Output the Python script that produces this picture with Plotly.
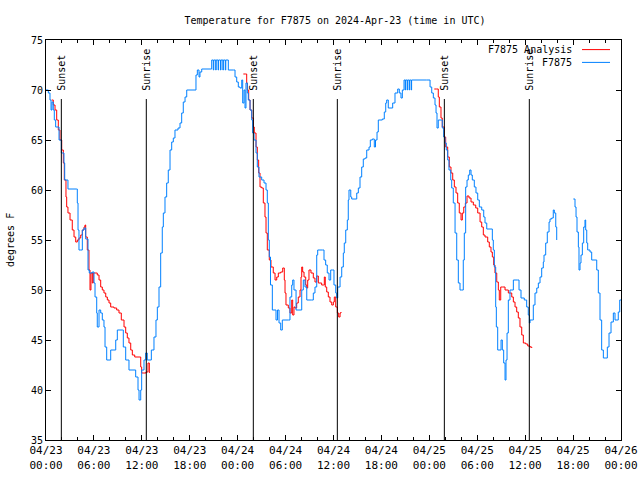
import plotly.graph_objects as go

# ---- data (hours since 2024-04-23 00:00 UTC, temperature in deg F) ----
obs_hours = [0.00, 0.29, 0.50, 0.63, 0.75, 0.91, 1.04, 1.21, 1.63, 1.92, 2.25, 2.34, 2.75, 3.84, 3.92, 4.01,
             4.13, 4.35, 4.55, 4.76, 4.97, 5.13, 5.26, 5.42, 5.80, 6.01, 6.14, 6.35, 6.42, 6.64, 6.85, 7.05,
             7.26, 7.39, 7.60, 7.89, 8.10, 8.51, 8.73, 8.93, 9.55, 9.68, 9.98, 10.39, 11.02, 11.23, 11.52, 11.65,
             11.86, 11.98, 12.27, 12.48, 12.68, 13.02, 13.19, 13.52, 13.77, 13.94, 14.15, 14.36, 14.56, 14.69,
             14.90, 15.11, 15.31, 15.53, 15.74, 15.94, 16.15, 16.53, 16.78, 16.99, 17.19, 17.41, 17.62, 18.66,
             18.78, 18.95, 19.16, 19.28, 19.50, 20.54, 20.75, 20.95, 21.01, 21.25, 21.31, 21.55, 21.61, 21.85,
             21.91, 22.15, 22.21, 22.45, 22.51, 22.83, 23.45, 23.67, 23.88, 24.08, 24.29, 24.51, 24.63,
             24.79, 24.92, 25.04, 25.21, 25.33, 25.55, 25.76, 25.88, 26.05, 26.30, 26.46, 26.67, 27.01, 27.30,
             27.55, 27.71, 27.84, 27.96, 28.11, 28.34, 28.68, 28.80, 28.99, 29.18, 29.39, 29.59, 30.34, 30.55,
             30.77, 30.89, 31.05, 31.31, 31.81, 32.02, 32.22, 32.43, 32.65, 33.27, 33.47, 33.68, 33.90, 34.02,
             34.65, 34.81, 35.02, 35.22, 35.44, 35.65, 35.90, 36.06, 36.28, 36.40, 36.53, 36.69, 36.82, 37.03,
             37.23, 37.35, 37.53, 37.73, 37.85, 37.94, 38.16, 38.28, 38.69, 38.91, 39.11, 39.32, 39.53, 39.73,
             39.95, 40.16, 40.45, 40.61, 40.86, 41.11, 41.26, 41.45, 41.61, 42.11, 42.36, 42.54, 42.66, 42.86,
             43.20, 43.41, 43.70, 44.04, 44.24, 44.45, 44.62, 44.83, 44.98, 45.03, 45.23, 45.28, 45.48, 45.53,
             45.73, 45.78, 47.67, 48.09, 48.30, 48.50, 48.71, 48.84, 48.96, 49.12, 49.46, 49.62, 49.80, 49.96,
             50.12, 50.30, 50.46, 50.68, 50.80, 51.00, 51.22, 51.43, 51.63, 51.84, 52.05, 52.25, 52.38, 52.55,
             52.72, 52.88, 53.06, 53.22, 53.38, 53.63, 53.84, 54.06, 54.26, 54.56, 54.81, 54.97, 55.19, 55.72,
             55.89, 56.01, 56.14, 56.31, 56.39, 56.56, 56.85, 56.98, 57.14, 57.31, 57.48, 57.60, 57.73, 57.89,
             58.10, 58.52, 59.07, 59.23, 59.48, 59.89, 60.19, 60.39, 60.52, 60.61, 60.90, 61.02, 61.23, 61.45,
             61.65, 61.86, 62.07, 62.27, 62.36, 62.57, 62.77, 62.99, 63.11, 63.32, 63.52, 63.65, 63.83, 63.95,
             65.00,
             66.03, 66.24, 66.37, 66.49, 66.66, 66.74, 66.87, 66.99, 67.16, 67.33, 67.49, 67.58, 67.71, 67.83,
             68.12, 68.33, 68.75, 68.96, 69.16, 69.37, 69.58, 69.79, 70.09, 70.29, 70.50, 70.75, 71.04, 71.25,
             71.50, 71.66, 71.84, 72.00]
obs_temps = [70.0, 69.7, 69.0, 68.0, 68.8, 68.0, 67.0, 66.3, 65.0, 63.7, 62.7, 61.0, 60.1, 60.1, 58.7, 56.0,
             54.0, 54.0, 56.0, 56.2, 55.1, 55.1, 52.0, 51.7, 51.8, 50.7, 49.3, 47.7, 46.3, 48.0, 47.7, 47.0,
             46.3, 44.3, 43.0, 43.0, 44.0, 44.0, 45.0, 46.0, 46.0, 44.3, 43.0, 42.0, 42.0, 41.3, 40.0, 39.0,
             40.0, 42.0, 43.0, 43.7, 43.0, 43.0, 44.0, 45.3, 47.0, 48.3, 50.3, 53.7, 56.3, 57.7,
             59.3, 60.7, 62.0, 64.0, 64.8, 65.2, 66.0, 66.2, 66.7, 67.7, 68.8, 69.3, 70.0, 70.0,
             71.5, 72.0, 71.3, 71.8, 72.1, 72.1, 73.0, 72.0, 73.0, 72.0, 73.0, 72.0, 73.0, 72.0,
             73.0, 72.0, 73.0, 72.0, 73.0, 72.0, 72.0, 71.3, 70.8, 70.3, 70.2, 71.0, 68.7,
             70.0, 68.2, 70.7, 69.7, 69.0, 68.0, 67.0, 65.7, 65.0, 63.7, 62.3, 61.3, 61.0, 60.7,
             60.0, 58.7, 55.0, 53.3, 50.5, 48.0, 48.0, 47.0, 48.0, 46.7, 46.0, 47.0, 47.0, 49.3,
             50.5, 51.0, 50.0, 48.0, 48.0, 50.0, 51.0, 50.3, 49.0, 49.0, 49.7, 50.3, 53.5, 54.0,
             54.0, 53.0, 52.5, 51.7, 51.0, 52.0, 52.0, 50.5, 49.7, 49.2, 50.3, 50.3, 51.3, 52.3,
             53.7, 54.7, 56.0, 57.0, 59.0, 60.0, 59.3, 59.1, 59.1, 59.7, 60.2, 61.3, 62.3, 63.1,
             63.2, 64.0, 64.3, 65.0, 65.1, 64.3, 65.0, 65.8, 67.0, 67.1, 67.8, 68.7, 69.0, 68.2,
             68.2, 68.7, 69.7, 70.1, 69.7, 69.2, 70.0, 71.0, 70.0, 71.0, 70.0, 71.0, 70.0, 71.0,
             70.0, 71.0, 71.0, 70.3, 69.7, 69.2, 68.5, 67.7, 66.2, 67.0, 67.0, 66.2, 65.3, 64.7,
             64.0, 63.0, 62.0, 61.0, 60.2, 58.7, 55.7, 53.0, 50.7, 50.0, 50.0, 53.0, 55.7, 60.3,
             61.0, 61.5, 62.0, 61.5, 61.0, 60.3, 59.7, 59.0, 58.3, 58.0, 57.3, 56.7, 56.1, 56.1,
             55.0, 54.0, 52.3, 48.3, 46.3, 44.0, 44.0, 45.0, 44.0, 42.7, 41.0, 43.0, 45.7, 49.0,
             50.0, 51.0, 51.0, 50.0, 49.2, 49.0, 48.3, 47.5, 46.7, 47.0, 47.0, 48.5, 49.7, 50.2,
             50.7, 51.3, 52.2, 52.8, 53.5, 54.7, 55.8, 56.8, 57.1, 57.2, 58.0, 57.7, 56.3, 55.0,
             None,
             59.1, 58.3, 57.3, 55.8, 54.3, 52.0, 52.7, 53.5, 54.7, 56.3, 57.0, 56.0, 54.7, 54.0,
             53.8, 53.0, 53.0, 52.0, 49.7, 47.0, 44.0, 43.2, 43.2, 44.3, 45.7, 46.8, 47.7, 47.0,
             47.0, 47.8, 49.0, 49.0]

ana_hours = [0.71, 0.91, 1.13, 1.34, 1.54, 1.75, 1.97, 2.17, 2.29, 2.50, 2.59, 2.75, 3.01, 3.29, 3.51, 3.72,
             3.92, 4.13, 4.35, 4.55, 4.76, 4.88, 4.97, 5.17, 5.38, 5.51, 5.63, 5.80, 5.92, 6.42, 6.64, 6.85,
             7.05, 7.26, 7.48, 7.68, 7.89, 8.10, 8.51, 8.85, 9.14, 9.43, 9.77, 9.98, 10.18, 10.39, 10.61, 10.81,
             11.11, 11.65, 11.86, 11.98, 12.27, 12.52, 12.77, 12.94,
             18.0,
             24.71, 25.01, 25.13, 25.21, 25.38, 25.55, 25.76, 25.96, 26.08, 26.30, 26.46, 26.63, 26.80, 27.01,
             27.21, 27.42, 27.55, 27.71, 27.96, 28.17, 28.46, 28.68, 28.89, 29.09, 29.39, 29.64, 29.84, 29.93,
             30.05, 30.34, 30.55, 30.77, 30.89, 31.05, 31.18, 31.39, 31.59, 31.81, 31.93, 32.02, 32.14, 32.31,
             32.52, 32.65, 32.77, 32.93, 33.18, 33.47, 33.68, 33.90, 34.10, 34.52, 34.72, 34.85, 34.97, 35.15,
             35.35, 35.56, 35.78, 35.98, 36.10, 36.28, 36.48, 36.65, 36.82, 36.94,
             42.0,
             48.62, 48.92, 49.12, 49.25, 49.46, 49.62, 49.87, 50.05, 50.30, 50.50, 50.71, 50.93, 51.13, 51.34,
             51.55, 51.75, 51.97, 52.13, 52.31, 52.51, 52.72, 52.97, 53.22, 53.51, 53.81, 54.06, 54.35, 54.56,
             54.76, 54.97, 55.31, 55.51, 55.72, 55.89, 56.06, 56.22, 56.44, 56.64, 56.76, 56.94, 57.14, 57.48,
             57.89, 58.32, 58.52, 58.73, 58.94, 59.14, 59.35, 59.57, 59.77, 60.07, 60.32, 60.61, 60.82]
ana_temps = [69.0, 68.5, 68.0, 67.0, 66.0, 65.0, 64.0, 62.7, 61.0, 59.3, 58.3, 57.7, 57.0, 56.0, 55.3, 54.8,
             55.0, 55.2, 55.5, 56.0, 56.3, 56.5, 55.3, 54.0, 52.0, 50.0, 51.7, 50.7, 51.7, 51.5, 51.0, 50.3,
             50.0, 49.7, 49.3, 49.0, 48.7, 48.3, 48.2, 48.0, 47.7, 47.0, 46.3, 45.7, 45.2, 44.7, 44.0, 43.5,
             43.3, 43.3, 42.3, 41.7, 41.7, 41.8, 42.7, 41.7,
             None,
             71.6, 71.6, 70.7, 70.0, 69.0, 68.0, 67.2, 66.3, 65.7, 64.3, 63.0, 61.7, 60.3, 60.2,
             58.7, 57.3, 55.7, 54.0, 53.0, 52.3, 51.7, 51.0, 51.3, 51.7, 51.8, 52.2, 51.0, 49.7,
             48.5, 48.2, 47.7, 49.0, 47.5, 48.3, 48.2, 48.7, 49.3, 50.0, 51.3, 52.3, 51.8, 51.3,
             50.5, 50.2, 51.0, 52.0, 51.7, 51.2, 50.8, 51.4, 50.7, 50.5, 50.5, 51.3, 50.3, 49.8,
             49.3, 48.8, 48.5, 48.8, 49.3, 48.3, 47.7, 47.3, 47.7, 47.8,
             None,
             70.1, 70.1, 69.3, 68.3, 67.2, 66.3, 65.3, 64.3, 63.3, 62.3, 61.7, 61.0, 60.3, 59.7,
             58.7, 57.7, 57.0, 57.7, 58.3, 58.7, 59.4, 59.2, 58.8, 58.5, 58.2, 57.7, 56.8, 56.3,
             55.5, 55.3, 54.8, 54.3, 53.8, 53.3, 52.5, 51.7, 50.8, 50.0, 49.0, 50.3, 50.3, 50.0,
             49.7, 49.3, 48.8, 48.3, 47.8, 47.2, 46.3, 45.5, 44.7, 44.6, 44.4, 44.3, 44.2]

event_hours = [1.92, 12.56, 25.96, 36.48, 49.88, 60.52]
event_labels = ["Sunset", "Sunrise", "Sunset", "Sunrise", "Sunset", "Sunrise"]

tick_hours = [0, 6, 12, 18, 24, 30, 36, 42, 48, 54, 60, 66, 72]
tick_labels = ["04/23<br>00:00", "04/23<br>06:00", "04/23<br>12:00", "04/23<br>18:00",
               "04/24<br>00:00", "04/24<br>06:00", "04/24<br>12:00", "04/24<br>18:00",
               "04/25<br>00:00", "04/25<br>06:00", "04/25<br>12:00", "04/25<br>18:00",
               "04/26<br>00:00"]

series_names = ["F7875 Analysis", "F7875"]
series_colors = ["#ff0000", "#0080ff"]

FONT = "DejaVu Sans Mono"

fig = go.Figure()
fig.add_trace(go.Scatter(x=ana_hours, y=ana_temps, mode="lines", name=series_names[0],
                         line=dict(color=series_colors[0], width=1, shape="hv"), showlegend=False))
fig.add_trace(go.Scatter(x=obs_hours, y=obs_temps, mode="lines", name=series_names[1],
                         line=dict(color=series_colors[1], width=1, shape="hv"), showlegend=False))

# Sunset / sunrise markers
for h, lab in zip(event_hours, event_labels):
    fig.add_shape(type="line", xref="x", yref="y", x0=h, x1=h, y0=35, y1=69.1,
                  line=dict(color="black", width=1))
    fig.add_annotation(x=h, y=69.75, xref="x", yref="y", text=lab, showarrow=False,
                       textangle=-90, xanchor="center", yanchor="bottom",
                       font=dict(family=FONT, size=10, color="black"))

# Manual legend (text right-aligned, line sample to the right)
leg_y = [0.976, 0.944]
for name, col, yy in zip(series_names, series_colors, leg_y):
    fig.add_annotation(x=(574 - 46) / 575, y=yy, xref="paper", yref="paper", text=name,
                       showarrow=False, xanchor="right", yanchor="middle",
                       font=dict(family=FONT, size=10, color="black"))
    fig.add_shape(type="line", xref="paper", yref="paper",
                  x0=(582 - 46) / 575, x1=(610 - 46) / 575, y0=yy, y1=yy,
                  line=dict(color=col, width=1))

# y-axis title
fig.add_annotation(x=(10 - 46) / 575, y=0.5, xref="paper", yref="paper", text="degrees F",
                   showarrow=False, textangle=-90, xanchor="center", yanchor="middle",
                   font=dict(family=FONT, size=10, color="black"))

fig.update_layout(
    template="none",
    width=640, height=480,
    margin=dict(l=46, r=19, t=40, b=40, autoexpand=False),
    paper_bgcolor="white", plot_bgcolor="white",
    font=dict(family=FONT, size=10, color="black"),
    title=dict(text="Temperature for F7875 on 2024-Apr-23 (time in UTC)",
               x=(335) / 640, xanchor="center", y=1 - 20 / 480, yanchor="middle",
               font=dict(family=FONT, size=10, color="black")),
    showlegend=False,
)
fig.update_xaxes(range=[0, 72], tickmode="array", tickvals=tick_hours, ticktext=tick_labels,
                 automargin=False,
                 showgrid=False, zeroline=False, showline=True, linecolor="black", linewidth=1,
                 mirror="ticks", ticks="inside", ticklen=5, tickcolor="black",
                 minor=dict(tickmode="linear", tick0=0, dtick=2, ticks="inside", ticklen=3,
                            tickcolor="black", showgrid=False),
                 tickfont=dict(family=FONT, size=11))
fig.update_yaxes(range=[35, 75], tickmode="linear", tick0=35, dtick=5, automargin=False,
                 showgrid=False, zeroline=False, showline=True, linecolor="black", linewidth=1,
                 mirror="ticks", ticks="inside", ticklen=5, tickcolor="black",
                 tickfont=dict(family=FONT, size=10))

fig.write_html("out.html", config={"displayModeBar": False},
               post_script="document.body.style.margin='0';document.body.style.overflow='hidden';")
